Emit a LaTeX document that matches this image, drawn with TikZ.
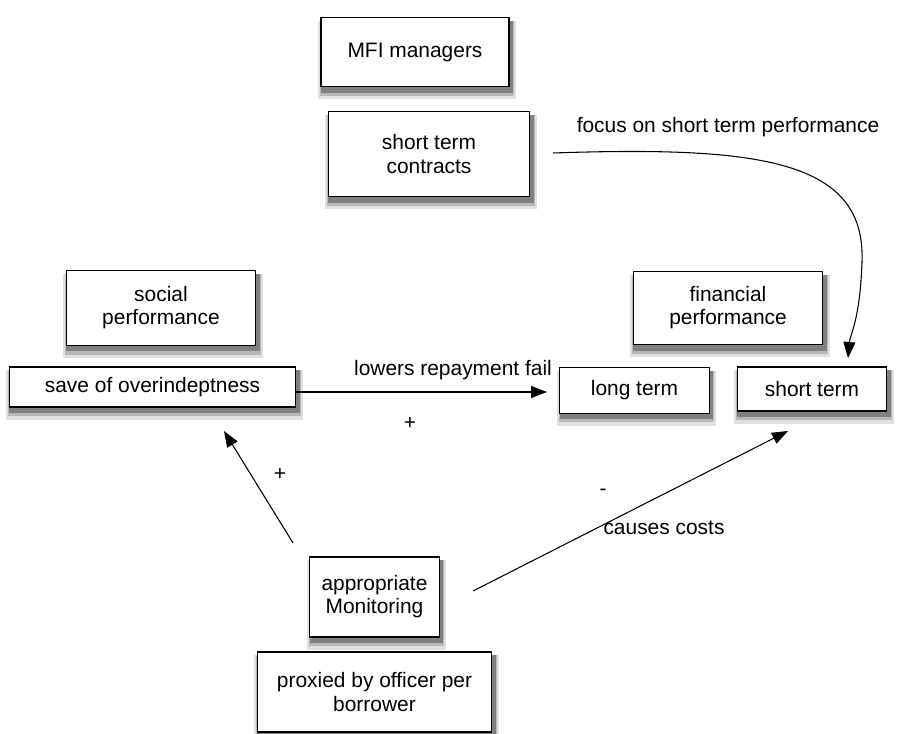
\documentclass[tikz,border=0pt]{standalone}
\usepackage{fontspec}
\setmainfont{Liberation Sans}
\usetikzlibrary{arrows.meta,backgrounds}

\tikzset{
  box/.style={draw, thick, fill=white, align=center, inner sep=2pt},
  lbl/.style={inner sep=1pt},
  link/.style={thick, -{Triangle[length=12pt, width=9pt]}}
}

\begin{document}
\begin{tikzpicture}[x=0.75pt, y=-0.75pt,
  font=\fontsize{15.7}{17.3}\selectfont]
  \useasboundingbox (0,0) rectangle (903,734);

  % boxes
  \node[box, minimum width=141pt, minimum height=52pt] (mfi) at (415,52) {MFI managers};
  \node[box, minimum width=151pt, minimum height=64pt] (contracts) at (429,154) {short term\\contracts};
  \node[box, minimum width=142pt, minimum height=56pt] (social) at (161,308) {social\\performance};
  \node[box, minimum width=215pt, minimum height=30pt] (save) at (152.5,387) {save of overindeptness};
  \node[box, minimum width=142pt, minimum height=55pt] (financial) at (728,308) {financial\\performance};
  \node[box, minimum width=112pt, minimum height=34pt] (longterm) at (634.5,390.5) {long term};
  \node[box, minimum width=112pt, minimum height=33pt] (shortterm) at (812,389) {short term};
  \node[box, minimum width=97pt, minimum height=60pt] (monitoring) at (374.5,597) {appropriate\\Monitoring};
  \node[box, minimum width=176pt, minimum height=60pt] (proxied) at (374.5,692) {proxied by officer per\\borrower};

  % shadows
  \begin{pgfonlayer}{background}
    \foreach \n in {mfi,contracts,social,save,financial,longterm,shortterm,monitoring,proxied} {
      \fill[black!12] ([xshift=-2pt,yshift=-9pt]\n.south west) rectangle ([xshift=5pt,yshift=-3pt]\n.north east);
      \fill[black!28] ([xshift=-0.5pt,yshift=-6.5pt]\n.south west) rectangle ([xshift=3.5pt,yshift=-3pt]\n.north east);
      \fill[black!50] ([xshift=0.5pt,yshift=-4pt]\n.south west) rectangle ([xshift=2.5pt,yshift=-3pt]\n.north east);
    }
  \end{pgfonlayer}

  % free ends
  \coordinate (focusstart) at (553,153);
  \coordinate (focusend) at (848,358);
  \coordinate (lowersend) at (547,392);
  \coordinate (monleft) at (293,543);
  \coordinate (monright) at (473,591);
  \coordinate (saveend) at (224,431);
  \coordinate (shortend) at (788,431);

  % connectors
  \draw[link] (focusstart) .. controls (760,146) and (866,160) .. (862,262)
    .. controls (860,320) and (850,335) .. (focusend);
  \draw[link] (save.east |- lowersend) -- (lowersend);
  \draw[link] (monleft) -- (saveend);
  \draw[link] (monright) -- (shortend);

  % labels
  \node[lbl] (focuslbl) at (728,127) {focus on short term performance};
  \node[lbl] (lowerslbl) at (453,370) {lowers repayment fail};
  \node[lbl] (pluslow) at (410,423) {+};
  \node[lbl] (plusmon) at (280,474) {+};
  \node[lbl] (minuscost) at (603,492) {-};
  \node[lbl] (costslbl) at (664,528) {causes costs};
\end{tikzpicture}
\end{document}
